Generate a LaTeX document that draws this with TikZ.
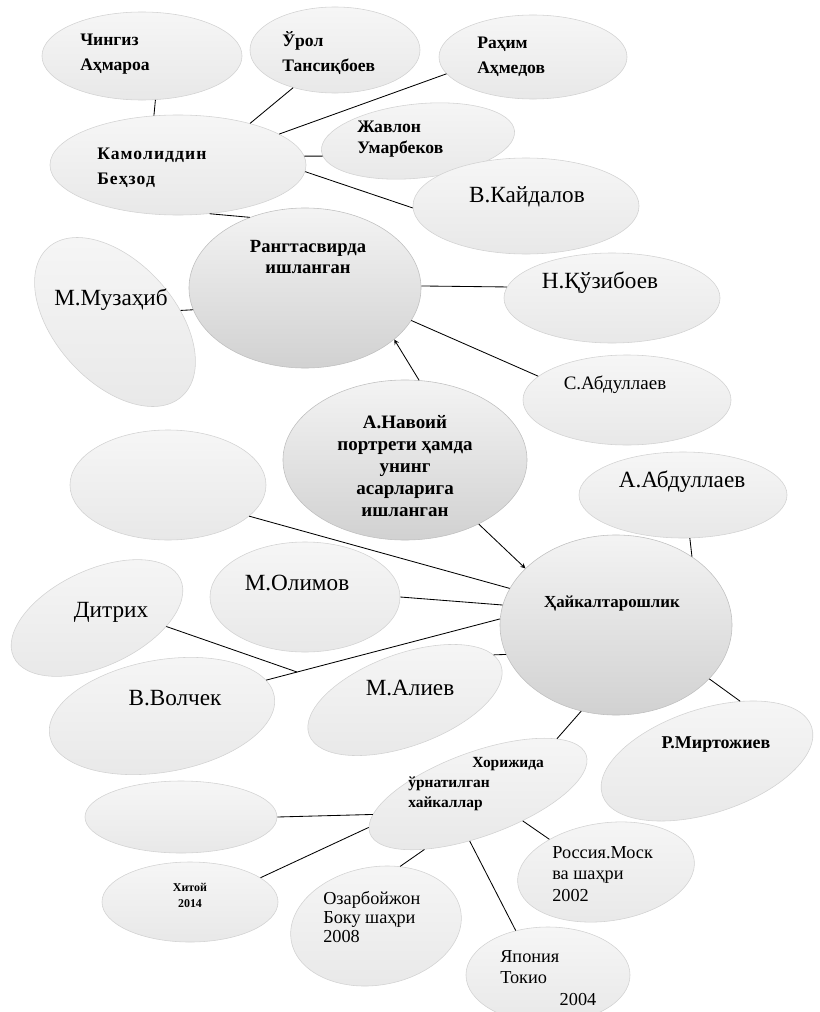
\documentclass[tikz,border=0pt]{standalone}
\usepackage{fontspec}
\setmainfont{Liberation Serif}
\usetikzlibrary{positioning,shapes.geometric,arrows.meta}

\tikzset{
  oval/.style={ellipse, draw=gray!35, top color=gray!7, bottom color=gray!18},
  bigoval/.style={ellipse, draw=gray!50, top color=gray!9, bottom color=gray!36},
  lbl/.style={inner sep=0pt, align=left, font=\fontsize{16.5}{19}\selectfont},
  blbl/.style={inner sep=0pt, align=left, font=\bfseries\fontsize{12.5}{18}\selectfont},
  link/.style={line width=0.6pt},
}

\begin{document}
\begin{tikzpicture}[x=0.025cm, y=-0.025cm]
\useasboundingbox (0,0) rectangle (820,1012);

% ellipses
\node[oval, minimum width=5cm, minimum height=2.2cm] (ching) at (142,56) {};
\node[oval, minimum width=4.25cm, minimum height=2.15cm] (urol) at (335,50) {};
\node[oval, minimum width=4.7cm, minimum height=2.1cm] (rahim) at (533,57) {};
\node[oval, minimum width=6.4cm, minimum height=2.5cm] (kamol) at (178,165) {};
\node[oval, minimum width=4.85cm, minimum height=1.85cm, rotate=6] (zhavl) at (418,141) {};
\node[oval, minimum width=5.65cm, minimum height=2.4cm] (kaid) at (526,206) {};
\node[bigoval, minimum width=5.8cm, minimum height=4cm] (rang) at (305,288) {};
\node[oval, minimum width=5cm, minimum height=3cm, rotate=-48] (muzah) at (115,322) {};
\node[oval, minimum width=5.4cm, minimum height=2.25cm] (kuzib) at (612,298) {};
\node[oval, minimum width=5.2cm, minimum height=2.25cm] (sabd) at (627,400) {};
\node[bigoval, minimum width=6.1cm, minimum height=4cm] (nav) at (405,460) {};
\node[oval, minimum width=4.9cm, minimum height=2.75cm] (bosh1) at (168,485) {};
\node[oval, minimum width=5.2cm, minimum height=2.15cm] (aabd) at (683,495) {};
\node[bigoval, minimum width=5.8cm, minimum height=4.5cm] (haykal) at (616,625) {};
\node[oval, minimum width=4.75cm, minimum height=2.75cm] (olim) at (305,597) {};
\node[oval, minimum width=4.6cm, minimum height=2.4cm, rotate=25] (ditr) at (97,618) {};
\node[oval, minimum width=5.7cm, minimum height=2.8cm, rotate=10] (volch) at (162,716) {};
\node[oval, minimum width=5.1cm, minimum height=2.3cm, rotate=20] (aliev) at (405,700) {};
\node[oval, minimum width=5.75cm, minimum height=2.1cm, rotate=20] (xor) at (478,794) {};
\node[oval, minimum width=5.5cm, minimum height=2.6cm, rotate=18] (mirt) at (707,761) {};
\node[oval, minimum width=4.8cm, minimum height=1.8cm] (bosh2) at (181,817) {};
\node[oval, minimum width=4.4cm, minimum height=2cm] (xitoy) at (190,902) {};
\node[oval, minimum width=4.3cm, minimum height=2.95cm, rotate=10] (ozar) at (376,926) {};
\node[oval, minimum width=4.45cm, minimum height=2.45cm, rotate=8] (ross) at (606,872) {};
\node[oval, minimum width=4.1cm, minimum height=2.4cm] (yapon) at (548,975) {};

% texts
\node[blbl, anchor=west] (ching-t) at (80,54) {Чингиз\\Аҳмароа};
\node[blbl, anchor=west] (urol-t) at (282,53) {Ўрол\\Тансиқбоев};
\node[blbl, anchor=west] (rahim-t) at (477,57) {Раҳим\\Аҳмедов};
\node[blbl, anchor=west, font=\bfseries\fontsize{12.5}{18}\selectfont\addfontfeature{LetterSpace=6}] (kamol-t) at (97,168) {Камолиддин\\Беҳзод};
\node[blbl, anchor=west, font=\bfseries\fontsize{12.5}{15}\selectfont] (zhavl-t) at (357,139) {Жавлон\\Умарбеков};
\node[lbl] (kaid-t) at (527,197) {В.Кайдалов};
\node[blbl, align=center, font=\bfseries\fontsize{13.2}{15.5}\selectfont] (rang-t) at (308,257) {Рангтасвирда\\ишланган};
\node[lbl] (muzah-t) at (111,300) {М.Музаҳиб};
\node[lbl] (kuzib-t) at (600,283) {Н.Қўзибоев};
\node[lbl, font=\fontsize{13.5}{16}\selectfont] (sabd-t) at (615,385) {С.Абдуллаев};
\node[blbl, align=center, font=\bfseries\fontsize{13.5}{15.6}\selectfont] (nav-t) at (405,466) {А.Навоий\\портрети ҳамда\\унинг\\асарларига\\ишланган};
\node[lbl] (aabd-t) at (682,482) {А.Абдуллаев};
\node[blbl, font=\bfseries\fontsize{12}{15}\selectfont] (haykal-t) at (612,603) {Ҳайкалтарошлик};
\node[lbl] (olim-t) at (297,583) {М.Олимов};
\node[lbl] (ditr-t) at (111,612) {Дитрих};
\node[lbl] (volch-t) at (175,698) {В.Волчек};
\node[lbl] (aliev-t) at (410,688) {М.Алиев};
\node[blbl, anchor=west, font=\bfseries\fontsize{11}{14}\selectfont] (xor-t) at (408,784) {\hspace*{1.6cm}Хорижида\\ўрнатилган\\хайкаллар};
\node[blbl, font=\bfseries\fontsize{12.8}{15}\selectfont] (mirt-t) at (716,745) {Р.Миртожиев};
\node[blbl, align=center, font=\bfseries\fontsize{8.5}{11.4}\selectfont] (xitoy-t) at (190,895) {Хитой\\2014};
\node[lbl, anchor=west, font=\fontsize{13}{13.4}\selectfont] (ozar-t) at (323,917) {Озарбойжон\\Боку шаҳри\\2008};
\node[lbl, anchor=west, font=\fontsize{13}{15}\selectfont] (ross-t) at (552,874) {Россия.Моск\\ва шаҳри\\2002};
\node[lbl, anchor=west, font=\fontsize{13}{15}\selectfont] (yapon-t) at (500,967) {Япония\\Токио};
\node[lbl, font=\fontsize{13}{15}\selectfont] (yapon-y) at (578,999) {2004};

% connectors
\draw[link] (ching.-73) -- (kamol.116);
\draw[link] (urol.222) -- (kamol.30);
\draw[link] (rahim.191) -- (kamol.17);
\draw[link] (zhavl.183) -- (kamol.4);
\draw[link] (kamol.-3) -- (kaid.181);
\draw[link] (kamol.-57) -- (rang.128);
\draw[link] (rang.1) -- (kuzib.174);
\draw[link] (rang.-17) -- (sabd.165);
\draw[link] (rang.191) -- (muzah.58);
\draw[link,->,>=stealth] (nav.80) -- (rang.-30);
\draw[link,->,>=stealth] (nav.-41) -- (haykal.148);
\draw[link] (bosh1.-21) -- (haykal.161);
\draw[link] (olim.0) -- (haykal.170);
\coordinate (jn) at (297,672);
\draw[link] (ditr.-32) -- (jn);
\draw[link] (volch.9) -- (haykal.177);
\draw[link] (aliev.7) -- (haykal.195);
\draw[link] (aabd.-81) -- (haykal.42);
\draw[link] (haykal.-30) -- (mirt.43);
\draw[link] (haykal.-112) -- (xor.15);
\draw[link] (xor.171) -- (bosh2.0);
\draw[link] (xor.177) -- (xitoy.19);
\draw[link] (xor.206) -- (ozar.58);
\draw[link] (xor.240) -- (yapon.126);
\draw[link] (xor.-51) -- (ross.142);
\end{tikzpicture}
\end{document}
